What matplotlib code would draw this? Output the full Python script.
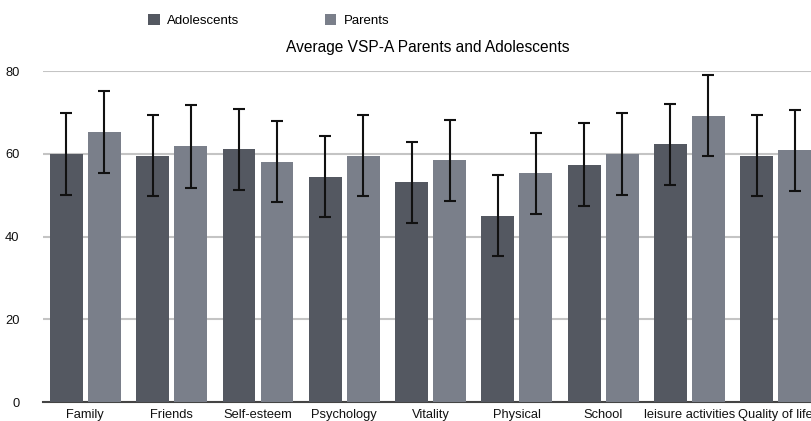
import numpy as np
import matplotlib.pyplot as plt

categories = ["Family", "Friends", "Self-esteem", "Psychology", "Vitality",
              "Physical", "School", "leisure activities", "Quality of life"]
adolescents = [60.0, 59.5, 61.1, 54.5, 53.1, 45.0, 57.4, 62.3, 59.5]
adolescents_sd = [10.0, 9.8, 9.8, 9.8, 9.8, 9.8, 10.0, 9.8, 9.8]
parents = [65.3, 61.8, 58.1, 59.5, 58.5, 55.3, 59.9, 69.2, 60.9]
parents_sd = [9.9, 10.0, 9.8, 9.8, 9.8, 9.8, 9.9, 9.8, 9.8]

plt.rcParams['font.family'] = ['Liberation Sans', 'DejaVu Sans']

fig = plt.figure(figsize=(8.12, 4.21), dpi=100)
ax = fig.add_axes([0.053, 0.045, 0.947, 0.786])

x = np.arange(len(categories))
w = 0.38
err_kw = dict(ecolor="#111111", elinewidth=1.5, capsize=4, capthick=1.5)
ax.bar(x - 0.22, adolescents, w, yerr=adolescents_sd, color="#545861",
       label="Adolescents", error_kw=err_kw, zorder=3)
ax.bar(x + 0.22, parents, w, yerr=parents_sd, color="#7a7f8a",
       label="Parents", error_kw=err_kw, zorder=3)

ax.set_ylim(0, 80)
ax.set_xlim(-0.49, 8.42)
ax.set_yticks([0, 20, 40, 60, 80])
ax.yaxis.grid(True, color="#c4c4c4", linewidth=1.5, zorder=0)
ax.set_axisbelow(True)
for s in ["left", "right", "top"]:
    ax.spines[s].set_visible(False)
ax.spines["bottom"].set_color("#444444")
ax.spines["bottom"].set_linewidth(1.5)
ax.tick_params(axis="both", length=0, labelsize=9.3, colors="#111111")
ax.tick_params(axis="y", pad=17)
ax.tick_params(axis="x", pad=5)
ax.set_xticks(x)
ax.set_xticklabels(categories)

ax.set_title("Average VSP-A Parents and Adolescents", fontsize=11.2, pad=14)

fig.legend(loc="upper left", bbox_to_anchor=(0.168, 0.995), ncol=2,
           frameon=False, fontsize=9.5, handlelength=0.85, handleheight=0.85,
           columnspacing=6.45, handletextpad=0.6)

plt.savefig("out.png", dpi=100)
